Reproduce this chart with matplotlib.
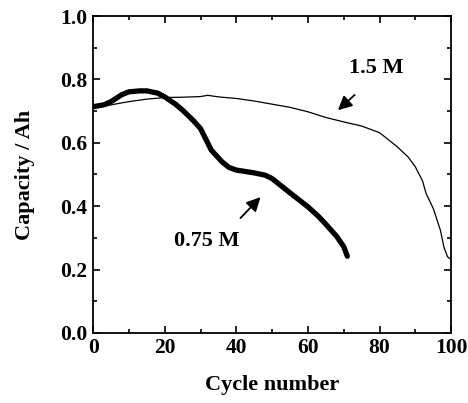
import matplotlib.pyplot as plt
from matplotlib.ticker import MultipleLocator

# 1.5 M electrolyte
cycles_15 = [0, 3, 6, 10, 15, 20, 25, 30, 32, 35, 40, 45, 50, 55, 60, 65, 70, 75, 80,
             83, 85, 88, 90, 92, 93, 95, 97, 98, 99, 100]
cap_15 = [0.716, 0.715, 0.722, 0.730, 0.738, 0.743, 0.744, 0.746, 0.750, 0.745, 0.740,
          0.732, 0.722, 0.712, 0.698, 0.680, 0.666, 0.653, 0.632, 0.605, 0.587, 0.555,
          0.524, 0.480, 0.440, 0.393, 0.324, 0.270, 0.240, 0.232]

# 0.75 M electrolyte
cycles_075 = [0, 3, 5, 8, 10, 13, 15, 18, 20, 23, 25, 28, 30, 33, 36, 38, 40, 45, 48,
              50, 55, 60, 63, 65, 68, 70, 71]
cap_075 = [0.714, 0.720, 0.730, 0.752, 0.761, 0.764, 0.764, 0.757, 0.745, 0.722, 0.703,
           0.670, 0.645, 0.577, 0.540, 0.522, 0.514, 0.505, 0.498, 0.487, 0.442, 0.398,
           0.367, 0.343, 0.305, 0.272, 0.242]

plt.rcParams['font.family'] = ['Liberation Serif', 'DejaVu Serif']
plt.rcParams['font.weight'] = 'bold'

fig = plt.figure(figsize=(4.68, 4.03), dpi=100)
ax = fig.add_axes([0.199, 0.174, 0.765, 0.786])

ax.plot(cycles_15, cap_15, color='black', lw=0.9)
ax.plot(cycles_075, cap_075, color='black', lw=3.8, solid_capstyle='round')

ax.set_xlim(0, 100)
ax.set_ylim(0, 1.0)
ax.xaxis.set_major_locator(MultipleLocator(20))
ax.xaxis.set_minor_locator(MultipleLocator(10))
ax.yaxis.set_major_locator(MultipleLocator(0.2))
ax.yaxis.set_minor_locator(MultipleLocator(0.1))
ax.yaxis.set_major_formatter(plt.FuncFormatter(lambda v, p: f'{v:.1f}'))
ax.tick_params(which='both', direction='in', top=True, right=True, labelsize=15.5, width=1.2)
ax.tick_params(which='major', length=5, pad=4)
ax.tick_params(which='minor', length=3)
for s in ax.spines.values():
    s.set_linewidth(1.3)

ax.set_xlabel('Cycle number', fontsize=16, fontweight='bold', labelpad=12)
ax.set_ylabel('Capacity / Ah', fontsize=16, fontweight='bold', labelpad=18)

ax.text(79, 0.836, '1.5 M', fontsize=16, fontweight='bold', ha='center', va='center')
ax.annotate('', xy=(67.8, 0.697), xytext=(73.6, 0.757),
            arrowprops=dict(arrowstyle='-|>,head_length=0.6,head_width=0.3', color='black',
                            lw=1.3, mutation_scale=14))
ax.text(31.7, 0.29, '0.75 M', fontsize=16, fontweight='bold', ha='center', va='center')
ax.annotate('', xy=(47.3, 0.435), xytext=(40.6, 0.356),
            arrowprops=dict(arrowstyle='-|>,head_length=0.6,head_width=0.3', color='black',
                            lw=1.3, mutation_scale=14))

fig.savefig('out.png', dpi=100)
